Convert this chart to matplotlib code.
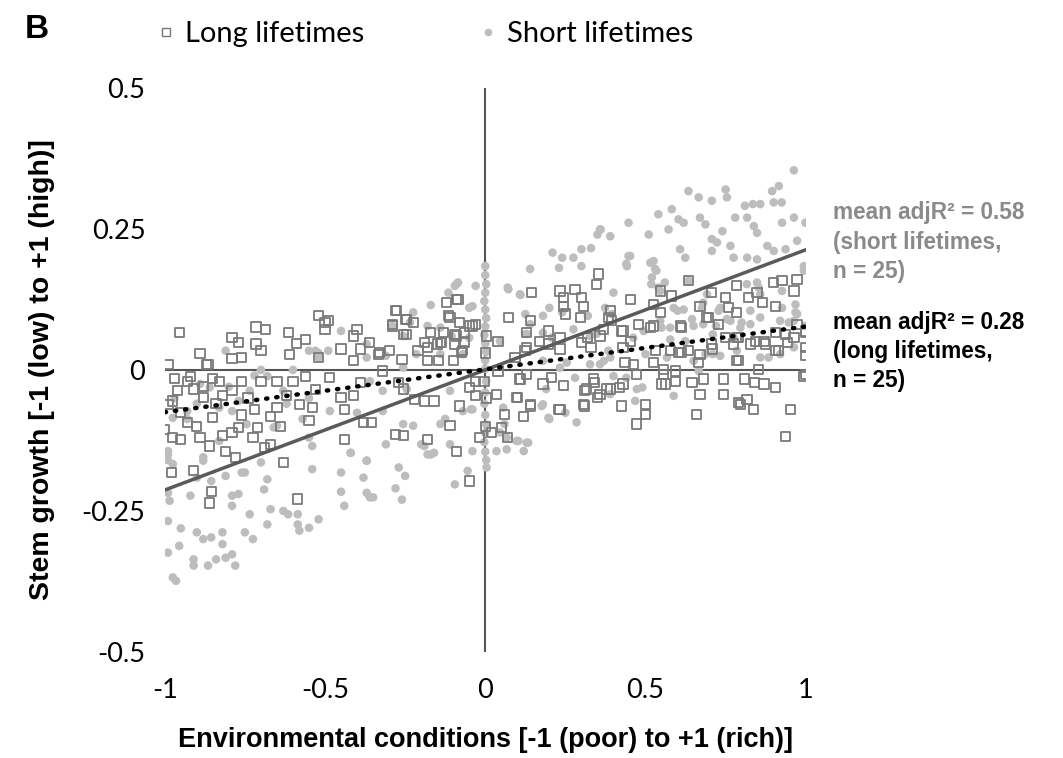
import matplotlib
matplotlib.use("Agg")
import matplotlib.pyplot as plt
from matplotlib.lines import Line2D

# ---------------- data ----------------
long_x = [-0.954,-0.89,-0.99,-0.87,-0.79,-0.77,-0.715,-0.685,-0.715,-0.70,-0.615,-0.59,-0.61,-0.52,-0.50,-0.56,-0.79,-0.76,
          -0.97,-0.92,-0.91,-0.96,-0.99,-0.85,-0.83,-0.79,-0.76,-0.70,-0.65,-0.56,-0.58,-0.54,-0.67,-0.65,-0.975,-0.93,-0.90,-1.0,
          -0.975,-0.95,-0.89,-0.86,-0.82,-0.79,-0.77,-0.725,-0.69,-0.67,-0.71,-0.81,-0.78,-0.63,-0.98,-0.91,-0.85,-0.88,
          -0.855,-0.86,-0.585,-0.865,-0.52,
          -0.93,-0.88,-0.82,-0.74,-0.72,-0.62,-0.60,-0.53,-0.95,-0.84,-0.76,-0.64,-0.55,
          -0.49,-0.50,-0.45,-0.40,-0.41,-0.36,-0.33,-0.30,-0.28,-0.29,-0.25,-0.225,-0.256,-0.19,-0.17,-0.14,-0.12,-0.09,-0.11,-0.08,
          -0.05,-0.03,-0.09,-0.095,-0.07,-0.10,-0.147,-0.18,-0.26,-0.32,-0.41,-0.485,-0.45,-0.44,-0.41,-0.39,-0.38,-0.355,-0.27,
          -0.256,-0.22,-0.19,-0.16,-0.08,-0.11,-0.05,-0.03,-0.03,-0.28,-0.256,-0.18,-0.09,-0.017,-0.44,-0.05,
          -0.334,-0.39,-0.115,-0.065,-0.13,-0.136,-0.065,-0.074,-0.18,-0.15,-0.21,-0.277,-0.29,-0.245,-0.085,-0.04,-0.095,-0.245,
          0.004,0.0,-0.004,0.004,0.0,
          0.035,0.06,0.05,0.07,0.02,0.10,0.14,0.12,0.11,0.18,0.23,0.31,0.31,0.35,0.34,
          0.353,0.348,0.145,0.072,0.14,0.233,0.244,0.28,0.30,0.306,0.244,0.25,0.452,0.39,0.395,0.197,0.17,0.233,0.30,0.37,0.426,
          0.452,0.124,0.093,0.04,0.108,0.129,0.207,0.244,0.337,0.317,0.358,0.39,0.43,0.473,0.462,0.098,0.14,0.233,0.306,
          0.426,0.5,0.5,0.473,0.04,0.129,0.129,0.197,0.233,0.32,0.33,0.358,0.296,0.38,0.42,0.384,0.43,0.478,0.43,0.436,
          0.515,0.546,0.525,0.525,0.556,0.55,0.582,0.634,0.546,0.67,0.707,0.75,0.785,0.76,0.785,0.822,0.848,0.864,0.9,0.926,
          0.973,0.963,0.905,0.525,0.608,0.69,0.728,0.75,0.785,0.843,0.905,0.937,0.973,0.999,0.999,0.999,0.963,
          0.53,0.577,0.613,0.634,0.67,0.71,0.775,0.827,0.87,0.905,0.785,0.853,
          0.999,0.905,0.87,0.84,0.81,0.817,0.796,0.838,0.952,0.937,0.744,0.744,0.68,0.645,0.67,0.66,0.593,0.562,
          0.697,0.613,0.707,0.603,0.79,0.874,0.942,0.916,0.999,0.556,0.593,0.666,0.79,0.994,0.79]
long_y = [0.066,0.029,0.009,0.009,0.058,0.048,0.076,0.072,0.046,0.034,0.066,0.047,0.027,0.096,0.084,0.054,0.020,0.022,
          -0.015,-0.011,-0.034,-0.037,-0.061,-0.015,-0.020,-0.037,-0.020,-0.020,-0.020,-0.012,-0.061,-0.067,-0.082,-0.067,-0.055,-0.093,-0.100,-0.105,
          -0.120,-0.123,-0.120,-0.135,-0.117,-0.111,-0.102,-0.120,-0.138,-0.132,-0.102,-0.144,-0.155,-0.164,-0.182,-0.179,-0.085,-0.049,
          -0.216,-0.236,-0.229,0.010,0.022,
          -0.020,-0.030,-0.045,-0.050,-0.070,-0.045,-0.020,-0.035,-0.075,-0.060,-0.080,-0.100,-0.090,
          0.087,0.072,0.037,0.072,0.060,0.048,0.031,0.034,0.105,0.078,0.090,0.084,0.063,0.048,0.066,0.048,0.119,0.125,0.093,0.084,
          0.078,0.081,0.060,0.046,0.034,0.016,0.016,0.016,0.019,-0.002,0.016,-0.014,-0.049,-0.070,-0.046,-0.022,-0.093,-0.093,-0.022,
          -0.034,-0.052,-0.055,-0.055,-0.064,-0.099,-0.031,-0.020,-0.046,-0.114,-0.117,-0.123,-0.144,-0.120,-0.123,-0.197,
          0.028,0.037,0.096,0.066,0.066,0.048,0.048,0.031,0.040,0.046,0.034,0.105,0.081,0.090,0.125,0.078,0.063,0.063,
          0.060,0.030,-0.020,-0.050,-0.100,
          -0.043,-0.079,-0.102,-0.120,-0.111,-0.049,-0.064,-0.082,-0.016,-0.025,-0.070,-0.064,-0.037,-0.049,-0.022,
          0.170,0.152,0.137,0.093,0.087,0.140,0.128,0.143,0.128,0.113,0.113,0.099,0.125,0.105,0.087,0.069,0.051,0.057,0.048,0.072,0.069,
          0.051,0.034,0.022,-0.002,-0.016,-0.008,-0.014,-0.028,-0.016,-0.034,-0.043,-0.034,-0.025,-0.008,0.010,-0.049,-0.061,-0.070,-0.061,
          -0.064,-0.061,-0.079,-0.096,0.051,0.066,0.040,0.046,0.037,0.057,0.040,0.060,0.093,-0.034,-0.031,0.093,0.069,0.081,0.040,0.013,
          0.075,0.102,0.116,0.013,-0.008,-0.025,0.131,0.158,0.140,0.113,0.137,0.128,0.149,0.110,0.102,0.128,0.137,0.119,0.155,0.158,
          0.161,0.140,0.113,0.078,0.078,0.093,0.081,0.057,0.057,0.051,0.066,0.063,0.081,0.066,0.040,0.025,0.057,
          0.034,0.034,0.031,0.034,0.028,0.037,0.046,0.046,0.051,0.034,0.016,0.001,
          -0.008,-0.031,-0.025,-0.022,-0.016,-0.052,-0.061,-0.070,-0.070,-0.118,-0.016,-0.043,-0.016,-0.022,-0.043,-0.079,-0.020,-0.025,
          0.093,0.075,0.046,0.031,0.057,0.046,0.048,0.034,0.069,0.001,-0.002,0.013,0.016,-0.011,-0.058]

short_x = [-0.99,-0.99,-0.99,-0.985,-0.99,-0.95,-0.90,-0.88,-0.855,-0.82,-0.82,-0.99,-0.955,-0.91,-0.91,-0.865,-0.84,-0.81,-0.79,-0.78,
           -0.975,-0.965,-0.92,-0.88,-0.855,-0.79,-0.77,-0.79,-0.735,-0.75,-0.725,-0.67,-0.63,-0.615,-0.585,-0.585,-0.58,-0.55,-0.52,
           -0.68,-0.69,-0.68,-0.76,-0.81,-0.54,-0.45,-0.45,-0.44,-0.42,-0.38,-0.37,-0.36,-0.37,-0.66,-0.57,-0.54,-0.70,-0.83,-0.93,
           -0.975,-0.93,-0.83,-0.77,-0.735,-0.86,-0.79,-0.745,-0.65,-0.55,-0.68,-0.63,-0.52,-0.89,-0.81,-0.99,-0.975,-0.88,-0.90,-0.75,
           -0.45,-0.55,-0.53,-0.52,-0.37,-0.97,-0.90,-0.80,-0.70,-0.60,-0.55,-0.72,-0.62,
           -0.17,-0.115,-0.095,-0.085,-0.03,-0.04,-0.225,-0.235,-0.29,-0.256,-0.18,-0.14,-0.105,-0.05,-0.09,-0.05,
           -0.49,-0.37,-0.31,-0.256,-0.215,-0.14,-0.07,-0.36,-0.32,-0.245,-0.485,-0.40,-0.32,-0.256,-0.225,-0.14,-0.125,-0.07,-0.045,
           -0.31,-0.20,-0.37,-0.42,-0.16,-0.27,-0.25,-0.28,-0.26,-0.35,-0.18,-0.17,-0.19,-0.11,-0.04,-0.055,-0.095,
           0.004,0.035,0.067,0.12,0.134,0.098,0.20,0.285,0.176,0.25,-0.11,-0.04,
           0.0,0.0,0.003,0.0,-0.003,0.0,0.003,0.0,-0.003,0.0,0.003,0.0,0.0,0.003,0.0,-0.003,0.0,0.003,0.0,-0.003,0.0,0.003,
           0.07,0.11,0.14,0.21,0.24,0.275,0.30,0.33,0.30,0.23,0.35,0.36,0.18,0.20,0.24,0.32,0.125,0.14,
           0.072,0.108,0.40,0.447,0.44,0.515,0.534,0.518,0.546,0.046,0.128,0.18,0.207,0.275,0.327,0.348,0.37,0.384,0.254,0.233,
           0.327,0.18,0.49,0.19,0.28,0.44,0.18,0.197,0.06,0.046,0.067,0.103,0.129,0.056,
           0.963,0.634,0.666,0.707,0.75,0.754,0.895,0.916,0.925,0.90,0.81,0.858,0.835,0.54,0.582,0.603,0.619,0.67,0.687,0.78,
           0.817,0.838,0.848,0.926,0.963,0.999,0.447,0.358,0.39,0.51,0.572,0.74,0.707,0.723,0.765,0.88,0.90,0.937,0.973,0.608,
           0.624,0.452,0.442,0.525,0.53,0.707,0.775,0.817,0.848,0.994,0.994,0.52,0.54,0.56,0.634,0.692,0.848,0.858,0.968,
           0.973,0.374,0.395,0.588,0.619,0.68,0.733,0.754,0.858,0.796,0.827,0.546,0.577,0.462,0.494,0.65,0.68,0.71,0.775,0.926,
           0.92,0.358,0.39,0.50,0.567,0.65,0.71,0.785,0.858,0.92,0.963,0.588,0.468,0.473,0.39,0.40,
           0.55,0.60,0.645,0.676,0.728,0.72,0.765,0.80,0.827,0.816,0.853,0.926,0.968,0.963,0.577,0.624,0.687,0.733,0.884,0.947,
           0.999,0.666]
short_y = [-0.144,-0.160,-0.218,-0.232,-0.268,-0.281,-0.288,-0.300,-0.297,-0.288,-0.309,-0.324,-0.312,-0.336,-0.347,-0.347,-0.336,-0.333,-0.327,-0.347,
           -0.368,-0.374,-0.223,-0.161,-0.197,-0.223,-0.220,-0.241,-0.256,-0.288,-0.300,-0.247,-0.250,-0.256,-0.256,-0.274,-0.285,-0.280,-0.265,
           -0.274,-0.212,-0.194,-0.182,-0.188,-0.176,-0.182,-0.216,-0.241,-0.147,-0.191,-0.218,-0.226,-0.161,-0.102,-0.087,-0.135,-0.164,-0.126,-0.087,
           -0.085,-0.073,-0.067,-0.055,-0.037,-0.031,-0.073,-0.096,-0.099,-0.120,-0.011,-0.037,0.022,-0.025,0.034,-0.150,-0.167,-0.155,-0.191,-0.182,
           0.069,0.034,0.034,0.030,0.046,-0.050,-0.060,-0.030,0.000,0.000,-0.050,-0.010,-0.060,
           0.115,0.137,0.149,0.155,0.149,0.113,0.102,0.084,0.078,0.060,0.078,0.075,0.060,0.057,0.152,0.110,
           0.034,0.022,0.025,0.004,0.028,0.028,0.028,-0.020,-0.037,-0.034,-0.073,-0.076,-0.073,-0.096,-0.099,-0.096,-0.087,-0.073,-0.070,
           -0.132,-0.132,-0.161,-0.147,-0.147,-0.173,-0.188,-0.210,-0.230,-0.226,-0.150,-0.150,-0.135,-0.132,-0.144,-0.179,-0.203,
           -0.173,-0.144,-0.141,-0.144,-0.129,-0.126,-0.087,-0.093,-0.064,-0.076,-0.037,-0.070,
           0.184,0.168,0.152,0.137,0.122,0.107,0.092,0.077,0.062,0.047,0.032,0.017,0.002,-0.020,-0.040,-0.060,-0.080,-0.097,-0.112,-0.128,-0.145,-0.160,
           0.146,0.133,0.179,0.208,0.199,0.199,0.214,0.216,0.184,0.181,0.240,0.249,0.096,0.110,0.102,0.096,0.099,0.081,
           0.143,0.134,0.137,0.202,0.188,0.190,0.176,0.152,0.140,0.051,0.064,0.066,0.057,0.072,0.060,0.064,0.016,0.034,0.013,0.004,
           0.010,0.016,-0.031,-0.034,-0.014,-0.014,-0.061,-0.085,-0.096,-0.111,-0.120,-0.126,-0.129,-0.067,
           0.354,0.317,0.306,0.300,0.320,0.306,0.317,0.326,0.297,0.297,0.291,0.294,0.294,0.276,0.285,0.267,0.261,0.270,0.258,0.270,
           0.270,0.255,0.243,0.261,0.270,0.261,0.261,0.249,0.237,0.240,0.249,0.246,0.232,0.226,0.220,0.220,0.211,0.214,0.229,0.214,
           0.199,0.202,0.184,0.193,0.179,0.211,0.199,0.199,0.196,0.184,0.176,0.164,0.146,0.155,0.158,0.134,0.155,0.134,0.116,
           0.099,0.110,0.099,0.110,0.107,0.119,0.110,0.090,0.093,0.075,0.081,0.087,0.075,0.057,0.069,0.078,0.081,0.063,0.057,0.110,
           0.087,0.010,0.022,0.028,0.022,0.016,0.028,0.034,0.022,0.028,0.040,-0.046,-0.055,-0.034,-0.043,-0.011,
           0.075,0.105,0.090,0.110,0.105,0.078,0.087,0.084,0.105,0.152,0.146,0.140,0.102,0.087,0.054,0.051,0.028,0.025,0.022,0.084,
           0.078,-0.002]

trend_x = [-1, 1]
short_trend_y = [-0.213, 0.213]
long_trend_y = [-0.075, 0.077]

x_ticks = [-1, -0.5, 0, 0.5, 1]
x_tick_labels = ["-1", "-0.5", "0", "0.5", "1"]
y_ticks = [-0.5, -0.25, 0, 0.25, 0.5]
y_tick_labels = ["-0.5", "-0.25", "0", "0.25", "0.5"]

short_note = ["mean adjR\u00b2 = 0.58", "(short lifetimes,", "n = 25)"]
long_note = ["mean adjR\u00b2 = 0.28", "(long lifetimes,", "n = 25)"]

# ---------------- figure ----------------
W, H = 1063, 758
fig = plt.figure(figsize=(W / 100, H / 100), dpi=100)
ax = fig.add_axes([0.155, 0.140, 0.603, 0.744])

sq_col = "#7a7a7a"
dot_col = "#bdbdbd"

ax.axhline(0, color="#555555", lw=1.5, zorder=1)
ax.axvline(0, color="#555555", lw=1.5, zorder=1)

ax.scatter(short_x, short_y, s=38, marker="o", color=dot_col, edgecolors="none", zorder=2)
ax.scatter(long_x, long_y, s=44, marker="s", facecolors="none", edgecolors=sq_col, linewidths=1.3, zorder=3)

ax.plot(trend_x, short_trend_y, color="#5a5a5a", lw=2.5, zorder=4)
ax.plot(trend_x, long_trend_y, color="black", lw=3.2, linestyle=(0, (0.3, 2.0)),
        dash_capstyle="round", zorder=5)

ax.set_xlim(-1, 1)
ax.set_ylim(-0.5, 0.5)
for s in ax.spines.values():
    s.set_visible(False)
ax.set_xticks(x_ticks)
ax.set_xticklabels(x_tick_labels, fontfamily="Lato", fontsize=19.5)
ax.set_yticks(y_ticks)
ax.set_yticklabels(y_tick_labels, fontfamily="Lato", fontsize=19.5)
ax.tick_params(axis="both", length=0)
ax.tick_params(axis="x", pad=19)
ax.tick_params(axis="y", pad=14)

ax.set_xlabel("Environmental conditions [-1 (poor) to +1 (rich)]", fontfamily="Liberation Sans",
              fontweight="bold", fontsize=19.5, labelpad=17)
ax.set_ylabel("Stem growth [-1 (low) to +1 (high)]", fontfamily="Liberation Sans",
              fontweight="bold", fontsize=20.5, labelpad=19)

# legend
handles = [Line2D([], [], marker="s", linestyle="none", markersize=6, markerfacecolor="none",
                  markeredgecolor=sq_col, markeredgewidth=1.0),
           Line2D([], [], marker="o", linestyle="none", markersize=5.5, markerfacecolor=dot_col,
                  markeredgecolor="none")]
leg = fig.legend(handles, ["Long lifetimes", "Short lifetimes"], loc="center left",
                 bbox_to_anchor=(0.122, 0.955), ncol=2, frameon=False,
                 prop={"family": "Lato", "size": 21}, handlelength=0.7, handletextpad=0.3,
                 columnspacing=3.9)

fig.text(25 / W, 1 - 30 / H, "B", fontfamily="Liberation Sans", fontweight="bold", fontsize=24,
         va="center", ha="left")

ann_kw = dict(fontfamily="Liberation Sans", fontweight="bold", fontsize=16.3, va="center", ha="left")
for i, line in enumerate(short_note):
    fig.text(833 / W, 1 - (213 + 29.5 * i) / H, line, color="#8a8a8a", **ann_kw)
for i, line in enumerate(long_note):
    fig.text(833 / W, 1 - (322 + 29.5 * i) / H, line, color="black", **ann_kw)

fig.savefig("out.png", dpi=100)
